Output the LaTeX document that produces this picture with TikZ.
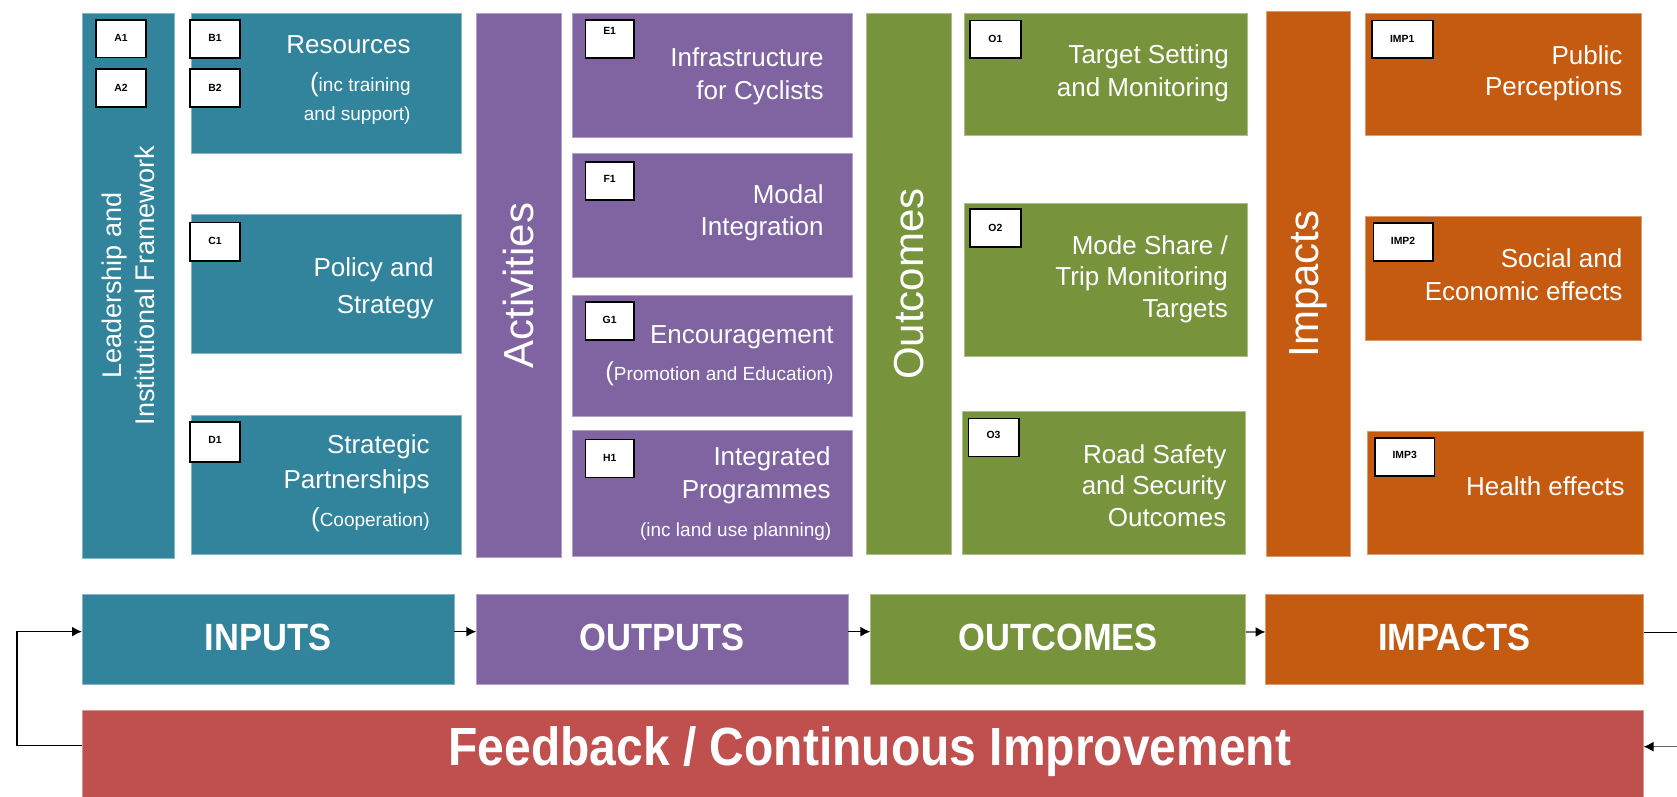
\documentclass[tikz,border=0pt]{standalone}
\usepackage{fontspec}
\setmainfont{Liberation Sans}
\usetikzlibrary{fit,arrows.meta}

\definecolor{tealbox}{HTML}{31849B}
\definecolor{purplebox}{HTML}{8064A2}
\definecolor{olivebox}{HTML}{77933C}
\definecolor{rustbox}{HTML}{C55A11}
\definecolor{brickbox}{HTML}{C0504D}

% font sizes (1 unit = 0.5pt)
\newcommand\mainsz{\fontsize{13}{15}\selectfont}
\newcommand\subsz{\fontsize{9.5}{11}\selectfont}
\newcommand\bigp{{\fontsize{13}{13}\selectfont(}}

\tikzset{
  blockbox/.style={inner sep=0pt, outer sep=0pt, fill=#1, draw=#1!60!white, line width=0.35pt},
  tagbox/.style={inner sep=0pt, outer sep=0pt, fill=white, draw=black, line width=0.8pt},
  tagtext/.style={inner sep=0pt, font=\fontsize{5.2}{6}\selectfont\bfseries},
  linetext/.style={anchor=base east, inner sep=0pt, text=white},
  coltitle/.style={rotate=90, inner sep=0pt, text=white, font=\fontsize{21}{24}\selectfont},
  stagetext/.style={text=white, font=\fontsize{17.25}{20}\selectfont\bfseries},
  conn/.style={draw=black, line width=0.75pt, -{Latex[length=5pt,width=5pt]}},
  plainline/.style={draw=black, line width=0.75pt},
}

% block: name, x1, y1, x2, y2, colour, text
\newcommand\blk[7]{\node[blockbox=#6, fit={(#2,#3)(#4,#5)}] (#1) {#7};}
% small reference tag: name, x1, y1, x2, y2, lift of the text, text
\newcommand\tagb[7]{%
  \node[tagbox, fit={(#2,#3)(#4,#5)}] (#1) {};
  \node[tagtext] (#1-t) at ([yshift=#6]#1.center) {#7};}
% one line of right-aligned text: name, x, y (baseline), font, text
\newcommand\txtline[5]{\node[linetext, font=#4] (#1) at (#2,#3) {#5};}

\begin{document}
\begin{tikzpicture}[x=0.5pt,y=-0.5pt]
\useasboundingbox (0,0) rectangle (1677,797);
\fill[white] (0,0) rectangle (1677,797);

% ---- Inputs column ----
\blk{lead}{82.7}{13.3}{174.3}{558.3}{tealbox}{}
\blk{res}{191}{13.3}{461.7}{153.3}{tealbox}{}
\blk{pol}{191}{214.3}{461.7}{353.3}{tealbox}{}
\blk{part}{191}{415}{461.7}{554.3}{tealbox}{}

\node[rotate=90, inner sep=0pt, text=white, align=center,
      font=\fontsize{13.5}{16.5}\selectfont] (leadtitle) at (lead.center)
      {Leadership and\\Institutional Framework};

\tagb{A1}{96}{20}{146}{57.7}{0.3pt}{A1}
\tagb{A2}{96}{69}{146}{107}{0.3pt}{A2}
\tagb{B1}{190}{20}{240}{58}{0.3pt}{B1}
\tagb{B2}{190}{69}{240}{107}{0.3pt}{B2}
\tagb{C1}{190}{222.3}{240}{260.7}{0.4pt}{C1}
\tagb{D1}{190}{421.7}{240}{461.7}{1.1pt}{D1}

\txtline{res1}{411}{54}{\mainsz}{Resources}
\txtline{res2}{411}{91.7}{\subsz}{\bigp inc training}
\txtline{res3}{411}{121}{\subsz}{and support)}
\txtline{pol1}{434}{276.7}{\mainsz}{Policy and}
\txtline{pol2}{434}{313.3}{\mainsz}{Strategy}
\txtline{part1}{430}{453.3}{\mainsz}{Strategic}
\txtline{part2}{430}{488.3}{\mainsz}{Partnerships}
\txtline{part3}{430}{526.7}{\subsz}{\bigp Cooperation)}

% ---- Activities column ----
\blk{act}{476.7}{13.3}{561}{557.7}{purplebox}{}
\node[coltitle] (acttitle) at (act.center) {Activities};
\blk{infra}{572}{13.3}{852}{137.3}{purplebox}{}
\blk{modal}{572}{153.3}{852}{277.3}{purplebox}{}
\blk{enc}{572}{295}{852}{416.7}{purplebox}{}
\blk{integ}{572}{430.7}{852}{556}{purplebox}{}

\tagb{E1}{585.3}{20}{634}{58.3}{4.3pt}{E1}
\tagb{F1}{585.3}{162}{634}{200}{1.2pt}{F1}
\tagb{G1}{585.3}{301.7}{634}{340}{0.5pt}{G1}
\tagb{H1}{585.3}{439.3}{634}{477.3}{0.4pt}{H1}

\txtline{infra1}{824}{66.7}{\mainsz}{Infrastructure}
\txtline{infra2}{824}{100}{\mainsz}{for Cyclists}
\txtline{modal1}{824}{203.3}{\mainsz}{Modal}
\txtline{modal2}{824}{235}{\mainsz}{Integration}
\txtline{enc1}{834}{343.3}{\mainsz}{Encouragement}
\txtline{enc2}{834}{380}{\subsz}{\bigp Promotion and Education)}
\txtline{integ1}{831}{465}{\mainsz}{Integrated}
\txtline{integ2}{831}{498.3}{\mainsz}{Programmes}
\txtline{integ3}{831.7}{536.7}{\subsz}{(inc land use planning)}

% ---- Outcomes column ----
\blk{outc}{866.7}{13.7}{951}{554.8}{olivebox}{}
\node[coltitle] (outctitle) at (outc.center) {Outcomes};
\blk{target}{964.3}{13.7}{1247.7}{135.2}{olivebox}{}
\blk{mode}{964.3}{203}{1247.7}{356.3}{olivebox}{}
\blk{safety}{962.3}{411}{1245.7}{554.8}{olivebox}{}

\tagb{O1}{970}{20.4}{1020.7}{58}{0.3pt}{O1}
\tagb{O2}{970}{209}{1020.7}{247}{0.2pt}{O2}
\tagb{O3}{968.3}{418.5}{1018.7}{456.3}{1.1pt}{O3}

\txtline{target1}{1229.3}{63.5}{\mainsz}{Target Setting}
\txtline{target2}{1229.3}{97}{\mainsz}{and Monitoring}
\txtline{mode1}{1228.3}{254}{\mainsz}{Mode Share /}
\txtline{mode2}{1228.3}{285.7}{\mainsz}{Trip Monitoring}
\txtline{mode3}{1228.3}{317.5}{\mainsz}{Targets}
\txtline{safety1}{1226.7}{463}{\mainsz}{Road Safety}
\txtline{safety2}{1226.7}{494.4}{\mainsz}{and Security}
\txtline{safety3}{1226.7}{526.3}{\mainsz}{Outcomes}

% ---- Impacts column ----
\blk{imp}{1266}{11.5}{1350.3}{556.7}{rustbox}{}
\node[coltitle] (imptitle) at (imp.center) {Impacts};
\blk{percep}{1365.7}{13.7}{1641}{135.2}{rustbox}{}
\blk{social}{1365.7}{216.7}{1641}{340}{rustbox}{}
\blk{health}{1367.3}{431.5}{1643}{554.8}{rustbox}{}

\tagb{IMP1}{1371.7}{20.4}{1432.7}{58.1}{0.3pt}{IMP1}
\tagb{IMP2}{1373.3}{223}{1432.7}{261}{0.4pt}{IMP2}
\tagb{IMP3}{1375}{438}{1434.3}{476}{0.8pt}{IMP3}

\txtline{percep1}{1622.7}{64.8}{\mainsz}{Public}
\txtline{percep2}{1622.7}{96}{\mainsz}{Perceptions}
\txtline{social1}{1622.7}{267.4}{\mainsz}{Social and}
\txtline{social2}{1622.7}{300.3}{\mainsz}{Economic effects}
\txtline{health1}{1625}{495}{\mainsz}{Health effects}

% ---- Stage bar ----
\blk{inputs}{82}{594}{454.3}{684.3}{tealbox}{}
\blk{outputs}{476.3}{594}{848}{684.3}{purplebox}{}
\blk{outcomes}{870.4}{594}{1245.8}{684.3}{olivebox}{}
\blk{impacts}{1265.5}{594}{1643.5}{684.3}{rustbox}{}
\node[stagetext] (inputslbl) at ([yshift=1pt]inputs.center) {\scalebox{1}[1.1]{INPUTS}};
\node[stagetext] (outputslbl) at ([yshift=1pt]outputs.center) {\scalebox{1}[1.1]{OUTPUTS}};
\node[stagetext] (outcomeslbl) at ([yshift=1pt]outcomes.center) {\scalebox{1}[1.1]{OUTCOMES}};
\node[stagetext] (impactslbl) at ([yshift=1pt]impacts.center) {\scalebox{1}[1.1]{IMPACTS}};

% ---- Feedback bar ----
\blk{fb}{82}{710}{1643.5}{797}{brickbox}{}
\node[text=white, font=\fontsize{24}{28}\selectfont\bfseries] (fblbl)
  at ([xshift=3.5pt,yshift=1pt]fb.center) {\scalebox{1}[1.12]{Feedback / Continuous Improvement}};

% ---- Connectors ----
\draw[conn] ([yshift=3.75pt]inputs.east) -- ([yshift=3.75pt]outputs.west);
\draw[conn] ([yshift=3.75pt]outputs.east) -- ([yshift=3.75pt]outcomes.west);
\draw[conn, draw=black!55, -{Latex[length=5pt,width=5pt,black]}]
  ([yshift=3.6pt]outcomes.east) -- ([yshift=3.6pt]impacts.west);
\draw[conn] ([yshift=3.9pt]fb.west) -- ++(-65,0) |- ([yshift=3.75pt]inputs.west);
\draw[plainline] ([yshift=3.45pt]impacts.east) -- ++(40,0);
\draw[conn, draw=black!60, -{Latex[length=5pt,width=5pt,black]}]
  ([xshift=20pt,yshift=3.4pt]fb.east) -- ([yshift=3.4pt]fb.east);
\end{tikzpicture}
\end{document}
